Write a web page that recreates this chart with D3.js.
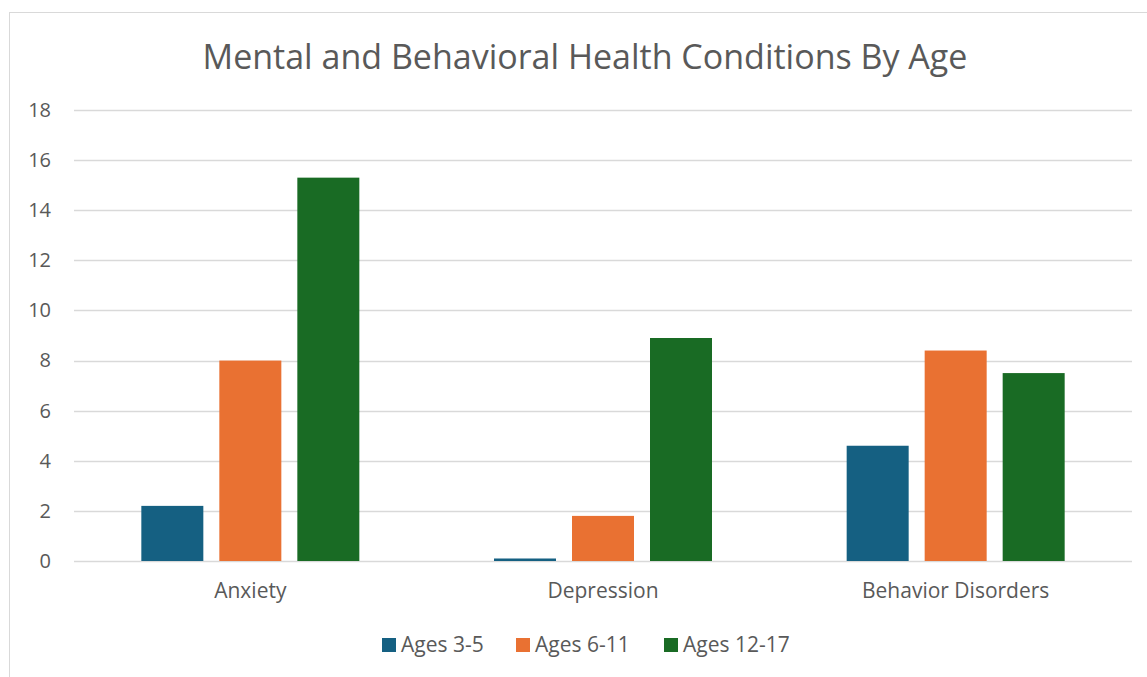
<!DOCTYPE html>
<html>
<head>
<meta charset="utf-8">
<script src="https://cdn.jsdelivr.net/npm/d3@7"></script>
<style>
  body { margin: 0; background: #fff; }
  text { font-family: "Open Sans", sans-serif; fill: #595959; }
</style>
</head>
<body>
<div id="chart"></div>
<script>
// Data
const categories = ["Anxiety", "Depression", "Behavior Disorders"];
const seriesNames = ["Ages 3-5", "Ages 6-11", "Ages 12-17"];
const ages3to5 = [2.2, 0.1, 4.6];
const ages6to11 = [8.0, 1.8, 8.4];
const ages12to17 = [15.3, 8.9, 7.5];
const yTicks = [0, 2, 4, 6, 8, 10, 12, 14, 16, 18];
const colors = ["#156082", "#E97132", "#196B24"];

const seriesValues = [ages3to5, ages6to11, ages12to17];

const W = 1147, H = 677;
const plot = { left: 74, right: 1132, top: 110, bottom: 561 };

const svg = d3.select("#chart").append("svg")
    .attr("width", W)
    .attr("height", H);

// chart border
svg.append("rect")
    .attr("x", 9.5).attr("y", 12.5)
    .attr("width", W).attr("height", H)
    .attr("fill", "none")
    .attr("stroke", "#d9d9d9")
    .attr("stroke-width", 1);

// title
svg.append("text")
    .attr("x", 585)
    .attr("y", 69)
    .attr("text-anchor", "middle")
    .style("font-size", "34px")
    .text("Mental and Behavioral Health Conditions By Age");

const y = d3.scaleLinear()
    .domain([0, 18])
    .range([plot.bottom, plot.top]);

const x0 = d3.scaleBand()
    .domain(categories)
    .range([plot.left, plot.right]);

const clusterW = 218;
const x1 = d3.scaleBand()
    .domain(seriesNames)
    .range([(x0.bandwidth() - clusterW) / 2, (x0.bandwidth() + clusterW) / 2])
    .paddingInner(16 / 78);

// gridlines
svg.append("g")
    .selectAll("line")
    .data(yTicks)
    .join("line")
    .attr("x1", plot.left)
    .attr("x2", plot.right)
    .attr("y1", d => Math.round(y(d)) + 0.5)
    .attr("y2", d => Math.round(y(d)) + 0.5)
    .attr("stroke", "#d9d9d9")
    .attr("stroke-width", 1.5);

// y axis labels
const yAxis = svg.append("g")
    .attr("transform", `translate(${plot.left - 16},0)`)
    .call(d3.axisLeft(y).tickValues(yTicks).tickSize(0).tickPadding(7));
yAxis.select(".domain").remove();
yAxis.selectAll("text")
    .attr("fill", "#595959")
    .style("font-size", "20px")
    .style("font-family", "'Open Sans', sans-serif");

// bars
const groups = svg.append("g")
    .selectAll("g")
    .data(categories)
    .join("g")
    .attr("transform", d => `translate(${x0(d)},0)`);

groups.selectAll("rect")
    .data((c, ci) => seriesNames.map((s, si) => ({ series: s, si, value: seriesValues[si][ci] })))
    .join("rect")
    .attr("x", d => x1(d.series))
    .attr("y", d => y(d.value))
    .attr("width", x1.bandwidth())
    .attr("height", d => y(0) - y(d.value))
    .attr("fill", d => colors[d.si]);

// x axis labels
const xAxis = svg.append("g")
    .attr("transform", `translate(0,${plot.bottom})`)
    .call(d3.axisBottom(x0).tickSize(0).tickPadding(22));
xAxis.select(".domain").remove();
xAxis.selectAll("text")
    .attr("fill", "#595959")
    .style("font-size", "21px")
    .style("font-family", "'Open Sans', sans-serif");

// legend
const legendX = [382, 516, 664];
const legend = svg.append("g")
    .selectAll("g")
    .data(seriesNames)
    .join("g")
    .attr("transform", (d, i) => `translate(${legendX[i]},638)`);

legend.append("rect")
    .attr("width", 14)
    .attr("height", 14)
    .attr("fill", (d, i) => colors[i]);

legend.append("text")
    .attr("x", 19)
    .attr("y", 14)
    .style("font-size", "21px")
    .text(d => d);
</script>
</body>
</html>
